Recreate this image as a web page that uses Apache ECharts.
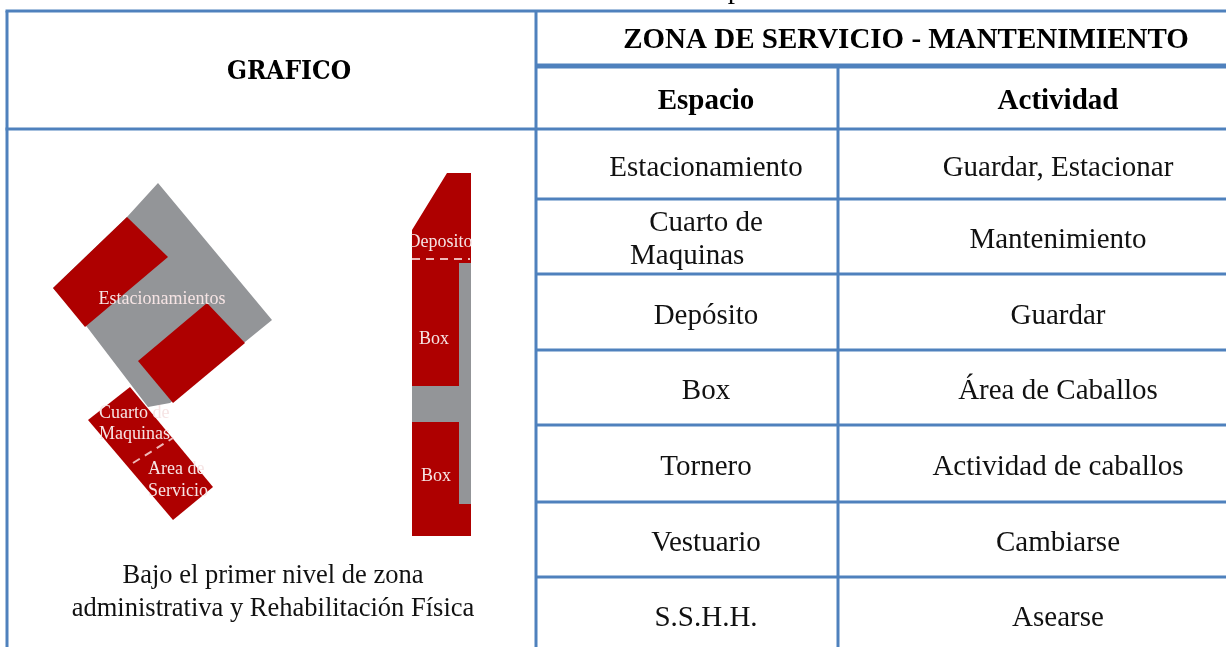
<!DOCTYPE html>
<html>
<head>
<meta charset="utf-8">
<style>html,body{margin:0;padding:0;background:#fff}#c{width:1226px;height:647px}</style>
<script src="https://cdn.jsdelivr.net/npm/echarts@6/dist/echarts.min.js"></script>
</head>
<body>
<div id="c"></div>
<script>
// Table content
var zoneTitle = 'ZONA DE SERVICIO - MANTENIMIENTO';
var leftTitle = 'GRAFICO';
var columnTitles = ['Espacio', 'Actividad'];
var spaces = ['Estacionamiento', '', 'Depósito', 'Box', 'Tornero', 'Vestuario', 'S.S.H.H.'];
var spaceWrapped = ['Cuarto de', 'Maquinas'];
var activities = ['Guardar, Estacionar', 'Mantenimiento', 'Guardar', 'Área de Caballos', 'Actividad de caballos', 'Cambiarse', 'Asearse'];
var captionLines = ['Bajo el primer nivel de zona', 'administrativa y Rehabilitación Física'];

// Table rule positions (picture units)
var rowRules = [129, 199, 274, 350, 425, 502, 577];
var leftEdge = 7, midRule = 536, colRule = 838, rightEdge = 1226, topRule = 11, subRule = 66, pageBottom = 647;

// Site plan shapes
var greyShapes = [
  [[158,183],[272,320],[170,403],[148,407],[87,327],[53,288],[127,217]],
  [[459,263],[471,263],[471,504],[459,504]],
  [[412,386],[471,386],[471,422],[412,422]]
];
var redShapes = [
  [[127,217],[168,257],[85,327],[53,288]],
  [[207,303],[245,343],[173,403],[138,361]],
  [[88,420],[130,387],[213,487],[173,520]]
];
var redBuilding = [[447,173],[471,173],[471,263],[459,263],[459,386],[412,386],[412,230]];
var redBuilding2 = [[412,422],[459,422],[459,504],[471,504],[471,536],[412,536]];
var planLabels = [
  ['Estacionamientos', 162, 299, 'center'],
  ['Cuarto de', 99, 413, 'left'],
  ['Maquinas', 99, 434, 'left'],
  ['Area de', 148, 469, 'left'],
  ['Servicio', 148, 491, 'left'],
  ['Deposito', 440, 242, 'center'],
  ['Box', 434, 339, 'center'],
  ['Box', 436, 476, 'center']
];
var dashes = [[[412,259],[470,259]], [[133,463],[173,438]]];
var maskShapes = [[[400,228],[411,228],[411,252],[400,252]], [[472,228],[482,228],[482,252],[472,252]]];

var BLUE = '#4f81bd', RED = '#ae0000', GREY = '#939598', SERIF = '"Liberation Serif", "Times New Roman", serif';

var items = [];
function rule(x1, y1, x2, y2, w) { items.push({k:'line', p:[[x1,y1],[x2,y2]], w:w, c:BLUE}); }
function text(t, x, y, font, fill, align) { items.push({k:'text', t:t, x:x, y:y, font:font, fill:fill, align:align||'center'}); }

greyShapes.forEach(function (s) { items.push({k:'poly', p:s, c:GREY}); });
redShapes.concat([redBuilding, redBuilding2]).forEach(function (s) { items.push({k:'poly', p:s, c:RED}); });
dashes.forEach(function (d) { items.push({k:'line', p:d, w:2, c:'#eeb8b8', dash:[8,6]}); });
planLabels.forEach(function (l) { text(l[0], l[1], l[2], '18px ' + SERIF, '#f6e4e4', l[3]); });
maskShapes.forEach(function (s) { items.push({k:'poly', p:s, c:'#fff'}); });

rule(leftEdge - 1.5, topRule, rightEdge, topRule, 3);
rule(midRule, subRule, rightEdge, subRule, 5);
rule(leftEdge - 1.5, rowRules[0], rightEdge, rowRules[0], 3);
rowRules.slice(1).forEach(function (y) { rule(midRule, y, rightEdge, y, 3); });
rule(leftEdge, topRule, leftEdge, pageBottom, 3);
rule(midRule, topRule, midRule, pageBottom, 3);
rule(colRule, subRule, colRule, pageBottom, 3);

var BODY = '29px ' + SERIF, BOLD = 'bold 29px ' + SERIF, INK = '#111';
text('p', 735, -10, BODY, '#000');
text(leftTitle, 289, 72, 'bold 26px "DejaVu Serif Condensed", ' + SERIF, '#000');
text(zoneTitle, 906, 41, BOLD, '#000');
text(columnTitles[0], 706, 102, BOLD, '#000');
text(columnTitles[1], 1058, 102, BOLD, '#000');
spaces.forEach(function (s, i) {
  var mid = (rowRules[i] + (rowRules[i + 1] || 652)) / 2 + 4;
  if (s) text(s, 706, mid, BODY, INK);
  text(activities[i], 1058, mid, BODY, INK);
});
text(spaceWrapped[0], 706, 223, BODY, INK);
text(spaceWrapped[1], 630, 256, BODY, INK, 'left');
captionLines.forEach(function (l, i) { text(l, 273, 576 + i * 33, '26.5px ' + SERIF, INK); });

var chart = echarts.init(document.getElementById('c'), null, {renderer: 'canvas'});
chart.setOption({
  animation: false,
  backgroundColor: '#fff',
  grid: {left: 0, right: 0, top: 0, bottom: 0},
  xAxis: {type: 'value', min: 0, max: 1226, show: false},
  yAxis: {type: 'value', min: 0, max: 647, inverse: true, show: false},
  series: [{
    type: 'custom',
    coordinateSystem: 'cartesian2d',
    clip: false,
    silent: true,
    data: items.map(function (it, i) { return [i]; }),
    encode: {x: 0},
    renderItem: function (params, api) {
      var it = items[params.dataIndex];
      if (it.k === 'poly') {
        return {type: 'polygon', shape: {points: it.p.map(function (q) { return api.coord(q); })}, style: {fill: it.c}};
      }
      if (it.k === 'line') {
        var a = api.coord(it.p[0]), b = api.coord(it.p[1]);
        return {type: 'line', shape: {x1: a[0], y1: a[1], x2: b[0], y2: b[1]}, style: {stroke: it.c, lineWidth: it.w, lineDash: it.dash || null}};
      }
      var c = api.coord([it.x, it.y]);
      return {type: 'text', x: c[0], y: c[1], style: {text: it.t, font: it.font, fill: it.fill, align: it.align, verticalAlign: 'middle'}};
    }
  }]
});
</script>
</body>
</html>
